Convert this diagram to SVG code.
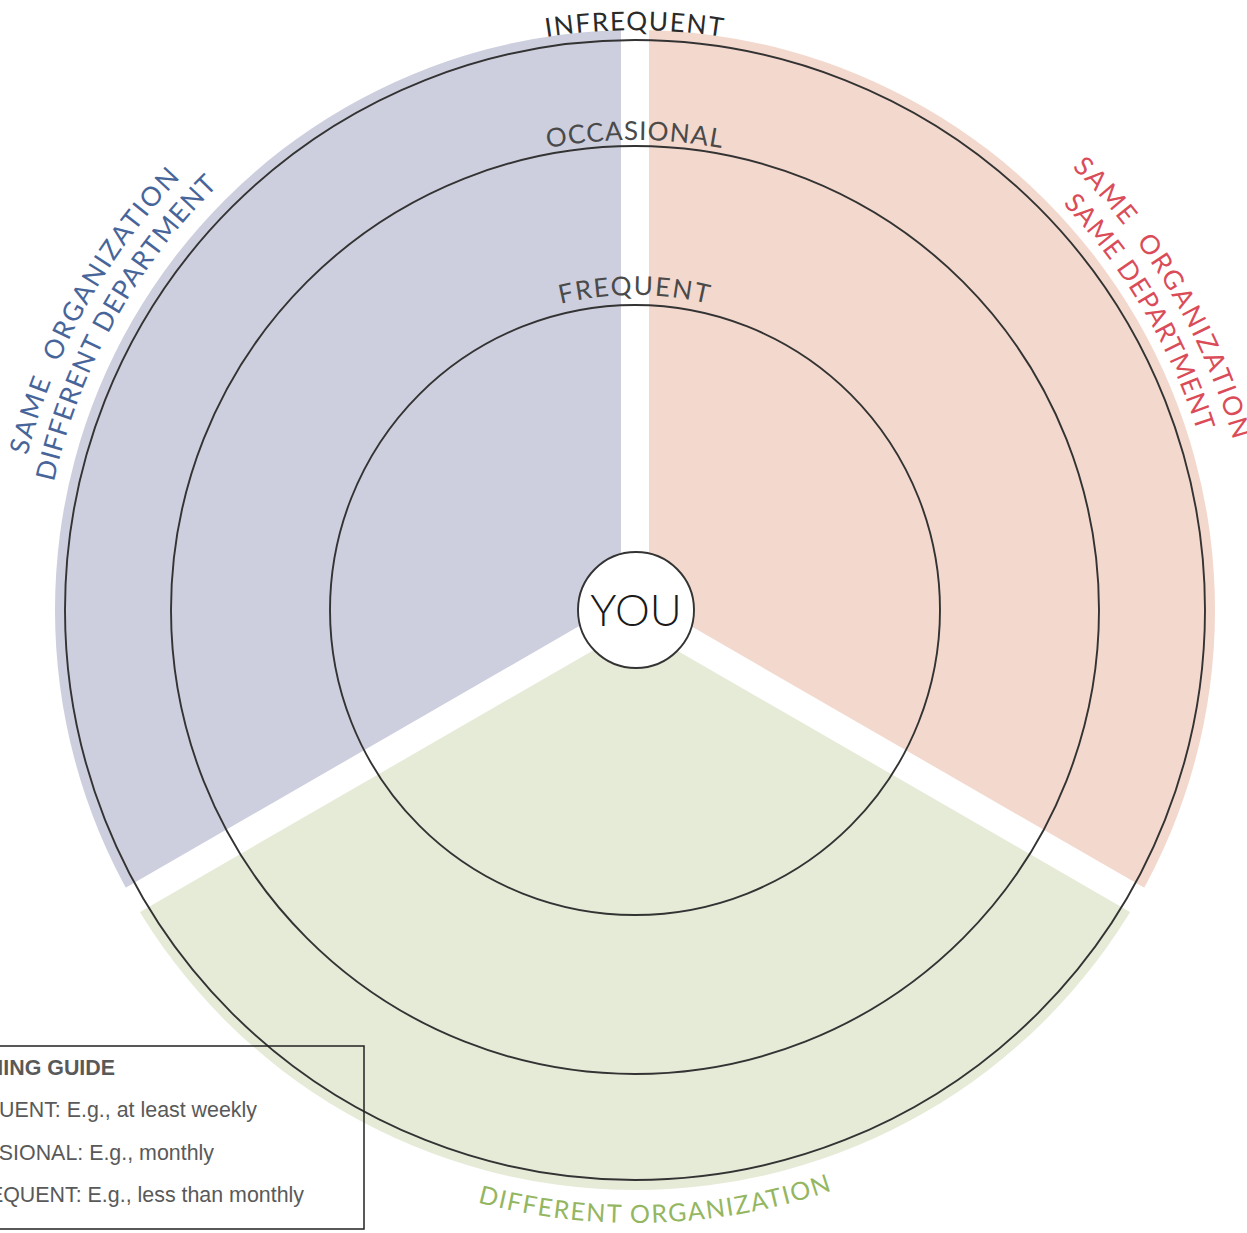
<svg xmlns="http://www.w3.org/2000/svg" width="1247" height="1233" viewBox="0 0 1247 1233">
<style>
.ring{fill:none;stroke:#333333;stroke-width:1.9}
.gap{stroke:#ffffff;stroke-width:28;stroke-linecap:butt}
.arc{font-family:Lato,"Open Sans",sans-serif;font-weight:400}
.lvl{font-size:26px}
.cat{font-size:26.5px}
.leg{font-family:"Liberation Sans",Arial,sans-serif;font-size:21.4px;fill:#595959}
</style>
<defs>
<path id="pInf" d="M345.5,107.6 A580,580 0 0 1 924.5,107.6"/>
<path id="pOcc" d="M400,203 A470,470 0 0 1 870,203"/>
<path id="pFreq" d="M477.5,337.2 A315,315 0 0 1 792.5,337.2"/>
<path id="pLo" d="M19.5,729.6 A627,627 0 0 1 410.3,24.6"/>
<path id="pLi" d="M50.9,723.5 A595,595 0 0 1 421.8,54.5"/>
<path id="pRo" d="M842.6,23.7 A622,622 0 0 1 1248.5,712.6"/>
<path id="pRi" d="M831.9,53.9 A590,590 0 0 1 1216.9,707.4"/>
<path id="pB" d="M257.6,1093 A613,613 0 0 0 1045.2,1065.5"/>
</defs>
<g id="sectors">
<path id="sector-diff-dept" d="M635,610 L132.7,900 A580,580 0 0 1 635,30 Z" fill="#CDCFDE"/>
<path id="sector-same-dept" d="M635,610 L635,30 A580,580 0 0 1 1137.3,900 Z" fill="#F3D8CD"/>
<path id="sector-diff-org" d="M635,610 L1137.3,900 A580,580 0 0 1 132.7,900 Z" fill="#E6EBD8"/>
</g>
<g id="gaps">
<line class="gap" x1="635" y1="610" x2="635" y2="20"/>
<line class="gap" x1="635" y1="610" x2="1153" y2="909"/>
<line class="gap" x1="635" y1="610" x2="117" y2="909"/>
</g>
<g id="rings">
<circle id="ring-infrequent" class="ring" cx="635" cy="610" r="570"/>
<circle id="ring-occasional" class="ring" cx="635" cy="610" r="464"/>
<circle id="ring-frequent" class="ring" cx="635" cy="610" r="305"/>
</g>
<g id="you">
<circle cx="636" cy="610" r="58" fill="#ffffff" stroke="#333333" stroke-width="1.9"/>
<text x="636" y="626" text-anchor="middle" font-family="Lato,'Open Sans',sans-serif" font-weight="300" font-size="44" fill="#1a1a1a">YOU</text>
</g>
<g id="level-labels">
<text class="arc lvl" fill="#2a2a2a" letter-spacing="1.5"><textPath href="#pInf" startOffset="50%" text-anchor="middle">INFREQUENT</textPath></text>
<text class="arc lvl" fill="#4a4a4a" letter-spacing="1"><textPath href="#pOcc" startOffset="50%" text-anchor="middle">OCCASIONAL</textPath></text>
<text class="arc lvl" fill="#4a4a4a" letter-spacing="1.8"><textPath href="#pFreq" startOffset="50%" text-anchor="middle">FREQUENT</textPath></text>
</g>
<g id="category-labels">
<text class="arc cat" fill="#48659A" letter-spacing="2.1" xml:space="preserve"><textPath href="#pLo" startOffset="50%" text-anchor="middle">SAME  ORGANIZATION</textPath></text>
<text class="arc cat" fill="#48659A" letter-spacing="1.1"><textPath href="#pLi" startOffset="50%" text-anchor="middle">DIFFERENT DEPARTMENT</textPath></text>
<text class="arc cat" fill="#DA4C58" letter-spacing="2.1" xml:space="preserve"><textPath href="#pRo" startOffset="50%" text-anchor="middle">SAME  ORGANIZATION</textPath></text>
<text class="arc cat" fill="#DA4C58" letter-spacing="0.9"><textPath href="#pRi" startOffset="50%" text-anchor="middle">SAME DEPARTMENT</textPath></text>
<text class="arc" font-size="25" fill="#94B661" letter-spacing="1.6"><textPath href="#pB" startOffset="50%" text-anchor="middle">DIFFERENT ORGANIZATION</textPath></text>
</g>
<g id="legend">
<rect x="-2" y="1046" width="366" height="183" fill="none" stroke="#222" stroke-width="1.5"/>
<text class="leg" x="115" y="1075" text-anchor="end" font-weight="bold">NING GUIDE</text>
<text class="leg" x="257" y="1117" text-anchor="end">UENT: E.g., at least weekly</text>
<text class="leg" x="214" y="1160" text-anchor="end">SIONAL: E.g., monthly</text>
<text class="leg" x="304" y="1202" text-anchor="end">EQUENT: E.g., less than monthly</text>
</g>
</svg>
